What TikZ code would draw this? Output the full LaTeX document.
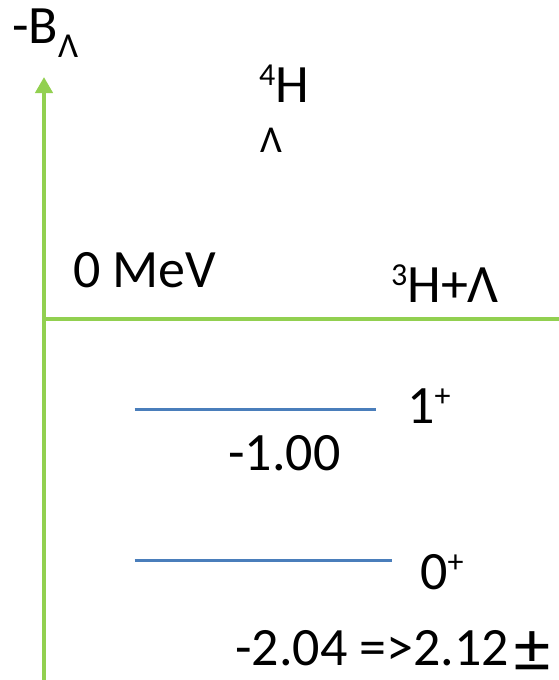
\documentclass[tikz,border=0pt]{standalone}
\usepackage{fontspec}
\setmainfont{Carlito}
\usetikzlibrary{arrows.meta}
\definecolor{AxisGreen}{HTML}{92D050}
\definecolor{LevelBlue}{HTML}{4A7EBB}
\newcommand\bigtext{\fontsize{54}{60}\selectfont}
\newcommand\supr[1]{\raisebox{17pt}{\fontsize{32}{36}\selectfont #1}}
\newcommand\subr[1]{\raisebox{-14pt}{\fontsize{35}{40}\selectfont #1}}
\newcommand\bigpm{\hspace{5pt}\raisebox{-7pt}{\fontsize{72}{72}\selectfont ±}}

\begin{document}
\begin{tikzpicture}[x=1pt,y=-1pt,
    >={Triangle[width=17pt,length=16pt]},
    axis/.style={draw=AxisGreen,line width=4pt},
    level/.style={draw=LevelBlue,line width=2.5pt},
    lbl/.style={anchor=base west,inner sep=0pt,font=\bigtext}
  ]
  \useasboundingbox (0,0) rectangle (559,680);
  % axes
  \coordinate (ybot) at (44,680);
  \coordinate (ytop) at (44,77);
  \coordinate (zero) at (44,318.7);
  \coordinate (xend) at (559,318.7);
  \draw[axis,->] (ybot) -- (ytop);
  \draw[axis] (zero) -- (xend);
  % levels
  \coordinate (oneL) at (134.7,409.3);
  \coordinate (oneR) at (376,409.3);
  \coordinate (gsL) at (134.7,560.7);
  \coordinate (gsR) at (391.7,560.7);
  \draw[level] (oneL) -- (oneR);
  \draw[level] (gsL) -- (gsR);
  % labels
  \node[lbl] (ylab) at (12,43) {-B\subr{Λ}};
  \node[lbl] (hyper) at (259,102) {\supr{4}H};
  \node[lbl,font=\fontsize{38}{40}\selectfont] (hyperL) at (260,152) {Λ};
  \node[lbl] (zeromev) at (73,287) {0 MeV};
  \node[lbl] (thresh) at (391,302) {\supr{3}H+Λ};
  \node[lbl] (spinone) at (407,423) {1\supr{+}};
  \node[lbl] (eone) at (228,470) {-1.00};
  \node[lbl] (spinzero) at (420,589) {0\supr{+}};
  \node[lbl] (ezero) at (235,665) {-2.04 =>2.12\bigpm};
\end{tikzpicture}
\end{document}
